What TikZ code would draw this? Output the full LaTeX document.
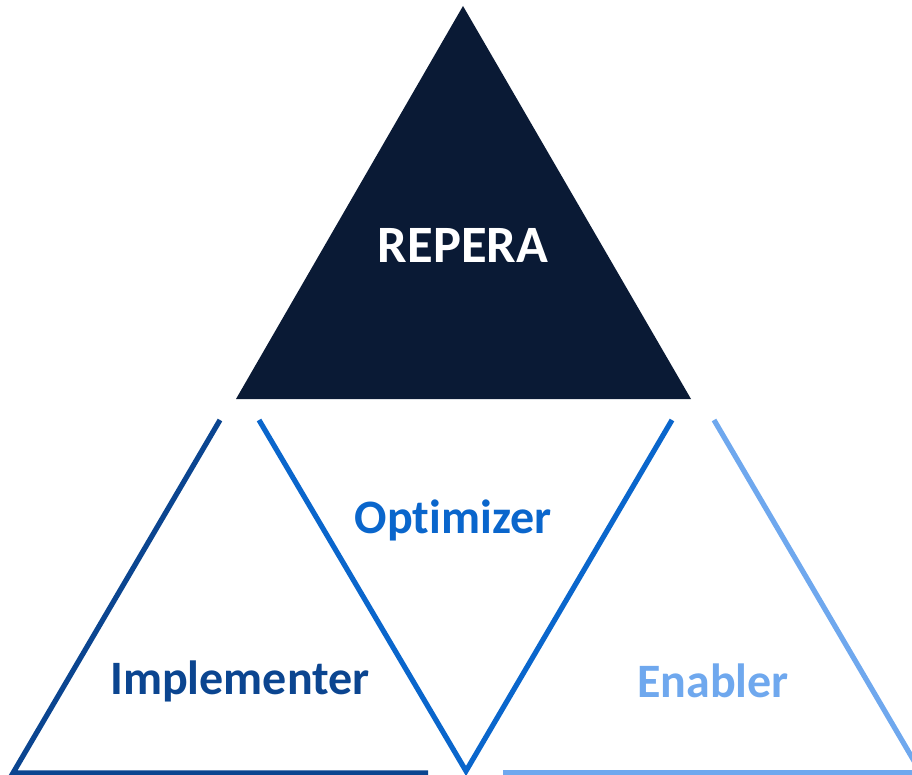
\documentclass[tikz,border=0pt]{standalone}
\usepackage{fontspec}
\setmainfont{Carlito}[Ligatures=NoCommon]
\usepackage{tikz}
\definecolor{navy}{HTML}{0A1A35}
\definecolor{implblue}{HTML}{0B4590}
\definecolor{optblue}{HTML}{0A66CC}
\definecolor{enablue}{HTML}{6FA8EE}
\tikzset{side/.style={line width=5.2pt},
	label text/.style={font=\fontsize{48}{52}\selectfont\bfseries}}

\begin{document}
\begin{tikzpicture}[x=1pt,y=-1pt]
\useasboundingbox (0,0) rectangle (912,775);
\coordinate (top) at (463,6);
\coordinate (bl) at (236,399);
\coordinate (br) at (691,399);
\fill [navy] (top) -- (br) -- (bl) -- cycle;
\node [text=white,font=\fontsize{52.5}{56}\selectfont\bfseries] (r) at (463,245) {REPERA};
% lower row
\coordinate (a) at (220,420);
\coordinate (b) at (13,773);
\coordinate (c) at (428,773);
\coordinate (d) at (259,420);
\coordinate (e) at (466,771);
\coordinate (f) at (672,420);
\coordinate (g) at (714,420);
\coordinate (h) at (917,766);
\coordinate (i) at (503,773);
\coordinate (j) at (912,773);
\draw [side,implblue] (a) -- (b) -- (c);
\draw [side,optblue,miter limit=20] (d) -- (e) -- (f);
\draw [side,enablue] (g) -- (h);
\draw [side,enablue] (i) -- (j);
\node [label text,text=optblue] (o) at (453,520) {Optimizer};
\node [label text,text=implblue] (m) at (240,681) {Implementer};
\node [label text,text=enablue] (n) at (713,681) {Enabler};
\end{tikzpicture}
\end{document}
